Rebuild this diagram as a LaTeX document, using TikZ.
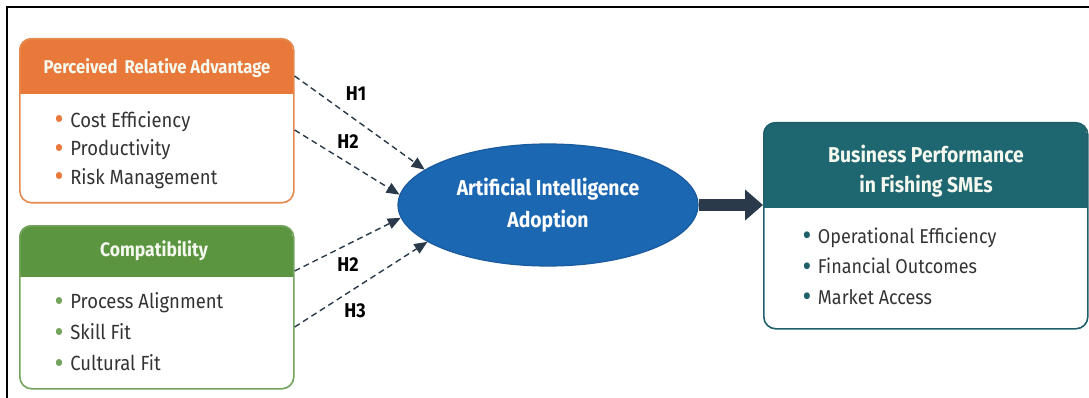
\documentclass[tikz,border=0pt]{standalone}
\usepackage{fontspec}
\setmainfont{Fira Sans}[FakeStretch=0.9]
\usetikzlibrary{arrows.meta,shapes.geometric}
\definecolor{orgH}{HTML}{E8793A}
\definecolor{orgB}{HTML}{E58A4E}
\definecolor{grnH}{HTML}{5B9540}
\definecolor{grnB}{HTML}{73A35C}
\definecolor{tealH}{HTML}{1E6670}
\definecolor{tealB}{HTML}{1F5F6A}
\definecolor{aiblue}{HTML}{1B67B2}
\definecolor{aiborder}{HTML}{1A5A9E}
\definecolor{arrowc}{HTML}{2B3A4A}
\definecolor{bodytxt}{HTML}{333333}
\definecolor{hdrtxt}{HTML}{F4F8EE}
\newcommand\mybul[1]{\textcolor{#1}{\raisebox{-0.12em}{\scalebox{1.5}{•}}}\,\,}
\tikzset{
  boxframe/.style={draw=#1, line width=1.6pt, rounded corners=12pt, anchor=north west, inner sep=0pt},
  hdrtext/.style={font=\fontsize{18.5}{26}\selectfont\bfseries, text=hdrtxt, align=center},
  listtext/.style={font=\fontsize{20.5}{29}\selectfont, text=bodytxt, align=left, anchor=west},
  hyp/.style={draw=arrowc, line width=1.4pt, dash pattern=on 6pt off 4pt, -{Triangle[length=13pt,width=11pt]}},
  hlabel/.style={font=\fontsize{20}{22}\selectfont\bfseries, text=black},
  bigarrow/.style={draw=arrowc, line width=12pt, -{Triangle[length=18pt,width=30pt]}}
}
\begin{document}
\begin{tikzpicture}[x=1pt,y=-1pt]
\useasboundingbox (0,0) rectangle (1089,398);
% outer frame
\draw[line width=2.2pt] (7,398) -- (7,7) -- (1089,7);

% ---------- Perceived Relative Advantage ----------
\begin{scope}
\clip[rounded corners=12pt] (19,38) rectangle (293,202);
\fill[orgH] (19,38) rectangle (293,94);
\end{scope}
\node[boxframe=orgB, minimum width=274pt, minimum height=164pt] (pra) at (19,38) {};
\node[hdrtext] (prah) at (157,68) {Perceived\, Relative Advantage};
\node[listtext, font=\fontsize{20.5}{28.5}\selectfont] (pral) at (51,150) {%
  \mybul{orgH}Cost Efficiency\\
  \mybul{orgH}Productivity\\
  \mybul{orgH}Risk Management};

% ---------- Compatibility ----------
\begin{scope}
\clip[rounded corners=12pt] (19,225) rectangle (293,388);
\fill[grnH] (19,225) rectangle (293,277);
\end{scope}
\node[boxframe=grnB, minimum width=274pt, minimum height=163pt] (cmp) at (19,225) {};
\node[hdrtext, font=\fontsize{19.5}{26}\selectfont\bfseries] (cmph) at (154,251) {Compatibility};
\node[listtext, font=\fontsize{20.5}{31}\selectfont] (cmpl) at (51,333) {%
  \mybul{grnB}Process Alignment\\
  \mybul{grnB}Skill Fit\\
  \mybul{grnB}Cultural Fit};

% ---------- AI Adoption ----------
\node[ellipse, draw=aiborder, line width=1.2pt, fill=aiblue, minimum width=300pt, minimum height=122pt, inner sep=0pt,
      font=\fontsize{21.5}{32}\selectfont\bfseries, text=white, align=center] (ai) at (548,205)
      {Artificial Intelligence\\Adoption};

% ---------- Business Performance ----------
\begin{scope}
\clip[rounded corners=12pt] (763,122) rectangle (1087,328);
\fill[tealH] (763,122) rectangle (1087,208);
\end{scope}
\node[boxframe=tealB, minimum width=324pt, minimum height=206pt] (bp) at (763,122) {};
\node[hdrtext, font=\fontsize{21.5}{30}\selectfont\bfseries] (bph) at (926,171) {Business Performance\\in Fishing SMEs};
\node[listtext, font=\fontsize{20}{30.5}\selectfont] (bpl) at (799,267) {%
  \mybul{tealB}Operational Efficiency\\
  \mybul{tealB}Financial Outcomes\\
  \mybul{tealB}Market Access};

% ---------- hypothesis arrows ----------
\coordinate (s1) at (pra.north east |- 0,76);
\coordinate (s2) at (pra.north east |- 0,130);
\coordinate (s3) at (cmp.north east |- 0,271);
\coordinate (s4) at (cmp.north east |- 0,327);
\draw[hyp] (s1) -- (ai.164);
\draw[hyp] (s2) -- (ai.176);
\draw[hyp] (s3) -- (ai.185);
\draw[hyp] (s4) -- (ai.197);
\node[hlabel] (h1) at (356,94) {H1};
\node[hlabel] (h2a) at (348,142) {H2};
\node[hlabel] (h2b) at (348,265) {H2};
\node[hlabel] (h3) at (355,311) {H3};

% ---------- main arrow ----------
\draw[bigarrow] (ai.east) -- (bp.west |- ai.east);
\end{tikzpicture}
\end{document}
